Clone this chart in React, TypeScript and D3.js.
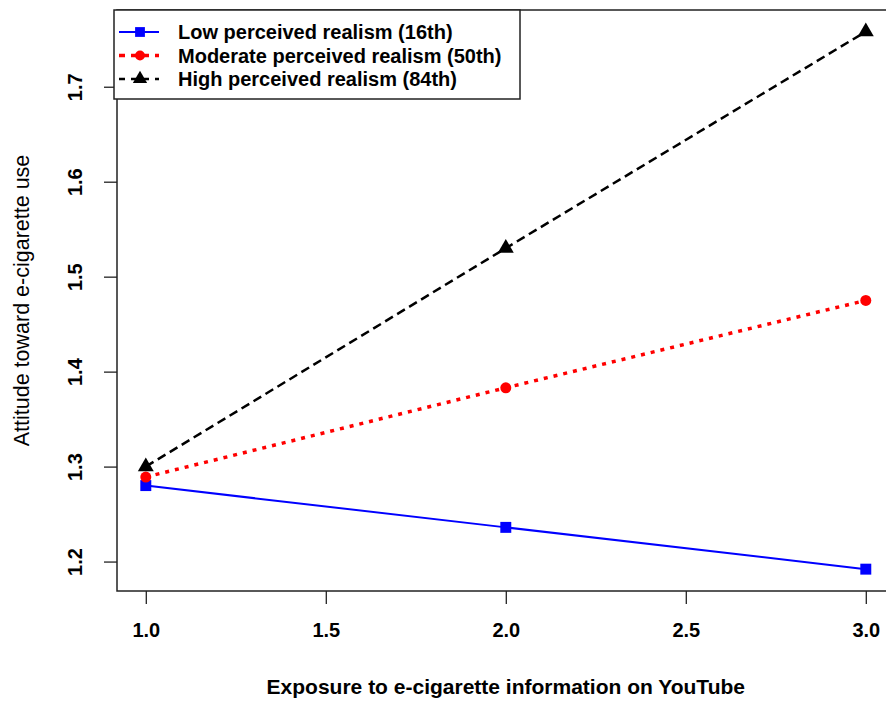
import React, { useEffect, useRef } from "react";
import * as d3 from "d3";

// exposure levels on x axis
const exposure = [1.0, 2.0, 3.0];
// attitude values per perceived-realism group
const lowRealism = [1.28, 1.236, 1.192];
const moderateRealism = [1.289, 1.383, 1.475];
const highRealism = [1.3, 1.53, 1.758];
const seriesNames = [
  "Low perceived realism (16th)",
  "Moderate perceived realism (50th)",
  "High perceived realism (84th)",
];
const xTicks = [1.0, 1.5, 2.0, 2.5, 3.0];
const yTicks = [1.2, 1.3, 1.4, 1.5, 1.6, 1.7];

const App = () => {
  const svgRef = useRef<SVGSVGElement>(null);

  useEffect(() => {
    const width = 886;
    const height = 702;
    const font = "'Liberation Sans', Arial, sans-serif";

    const svg = d3.select(svgRef.current);
    svg.selectAll("*").remove();
    svg.attr("width", width).attr("height", height);

    // R-style 4% extended limits
    const xScale = d3.scaleLinear().domain([0.92, 3.08]).range([117, 894.6]);
    const yScale = d3.scaleLinear().domain([1.169, 1.7808]).range([591, 10]);

    // plot box
    svg.append("rect")
      .attr("x", xScale(0.92))
      .attr("y", yScale(1.7808))
      .attr("width", xScale(3.08) - xScale(0.92))
      .attr("height", yScale(1.169) - yScale(1.7808))
      .attr("fill", "none")
      .attr("stroke", "#222")
      .attr("stroke-width", 1.5);

    // x axis
    const xAxis = svg.append("g")
      .attr("transform", `translate(0,${yScale(1.169)})`)
      .call(
        d3.axisBottom(xScale)
          .tickValues(xTicks)
          .tickSize(13)
          .tickPadding(19)
          .tickFormat(d3.format(".1f"))
      );
    xAxis.select(".domain").remove();
    xAxis.selectAll("line").attr("stroke", "#222").attr("stroke-width", 1.3);
    xAxis.selectAll("text")
      .attr("font-family", font)
      .attr("font-weight", "bold")
      .attr("font-size", 20)
      .attr("fill", "#000");

    // y axis with rotated labels
    const yAxis = svg.append("g")
      .attr("transform", `translate(${xScale(0.92)},0)`)
      .call(d3.axisLeft(yScale).tickValues(yTicks).tickSize(13).tickFormat(d3.format(".1f")));
    yAxis.select(".domain").remove();
    yAxis.selectAll("line").attr("stroke", "#222").attr("stroke-width", 1.3);
    yAxis.selectAll("text")
      .attr("font-family", font)
      .attr("font-weight", "bold")
      .attr("font-size", 20)
      .attr("fill", "#000")
      .attr("text-anchor", "middle")
      .attr("dy", 0)
      .attr("x", 0)
      .attr("transform", "translate(-35,0) rotate(-90)");

    // axis titles
    svg.append("text")
      .attr("x", (xScale(1) + xScale(3)) / 2)
      .attr("y", 694)
      .attr("text-anchor", "middle")
      .attr("font-family", font)
      .attr("font-weight", "bold")
      .attr("font-size", 21)
      .text("Exposure to e-cigarette information on YouTube");

    svg.append("text")
      .attr("transform", `translate(29,${(yScale(1.169) + yScale(1.7808)) / 2}) rotate(-90)`)
      .attr("text-anchor", "middle")
      .attr("font-family", font)
      .attr("font-size", 21.5)
      .text("Attitude toward e-cigarette use");

    const series = [
      { name: seriesNames[0], values: lowRealism, color: "#0000ff", dash: null, width: 2, symbol: d3.symbolSquare, size: 120 },
      { name: seriesNames[1], values: moderateRealism, color: "#ff0000", dash: "4,6", width: 3.5, symbol: d3.symbolCircle, size: 95 },
      { name: seriesNames[2], values: highRealism, color: "#000000", dash: "9,5", width: 2.5, symbol: d3.symbolTriangle, size: 110 },
    ];

    const line = d3.line<number>()
      .x((d, i) => xScale(exposure[i]))
      .y((d) => yScale(d));

    series.forEach((s) => {
      svg.append("path")
        .datum(s.values)
        .attr("d", line)
        .attr("fill", "none")
        .attr("stroke", s.color)
        .attr("stroke-width", s.width)
        .attr("stroke-dasharray", s.dash);

      svg.selectAll(null)
        .data(s.values)
        .enter()
        .append("path")
        .attr("d", d3.symbol().type(s.symbol).size(s.size))
        .attr("transform", (d, i) => `translate(${xScale(exposure[i])},${yScale(d)})`)
        .attr("fill", s.color);
    });

    // legend
    const legend = svg.append("g").attr("transform", "translate(114,10)");
    legend.append("rect")
      .attr("width", 406)
      .attr("height", 89)
      .attr("fill", "#fff")
      .attr("stroke", "#222")
      .attr("stroke-width", 1.5);

    series.forEach((s, i) => {
      const y = 22 + i * 23.5;
      legend.append("line")
        .attr("x1", 5)
        .attr("x2", 45)
        .attr("y1", y)
        .attr("y2", y)
        .attr("stroke", s.color)
        .attr("stroke-width", s.width)
        .attr("stroke-dasharray", i === 0 ? null : "6,6");
      legend.append("path")
        .attr("d", d3.symbol().type(s.symbol).size(s.size * 0.8))
        .attr("transform", `translate(26,${y})`)
        .attr("fill", s.color);
      legend.append("text")
        .attr("x", 64)
        .attr("y", y)
        .attr("dy", "0.35em")
        .attr("font-family", font)
        .attr("font-weight", "bold")
        .attr("font-size", 20)
        .text(s.name);
    });
  }, []);

  return <svg ref={svgRef} style={{ position: "absolute", left: 0, top: 0 }}></svg>;
};

export default App;
